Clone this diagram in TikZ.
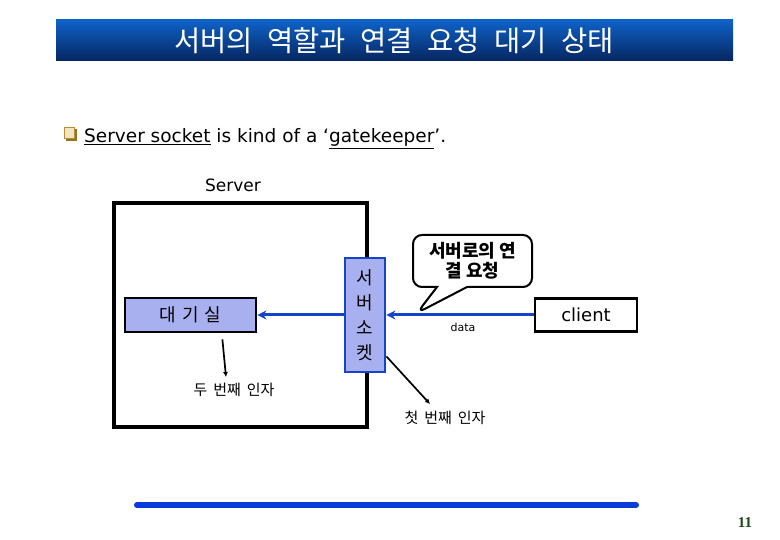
\documentclass[tikz,border=0pt]{standalone}
\usepackage{fontspec}
\setmainfont{DejaVu Sans}
\newfontfamily\kr{Noto Sans CJK KR}
\newfontfamily\pgnum{Liberation Serif}
\usetikzlibrary{shapes.callouts,arrows.meta}
\definecolor{lav}{HTML}{A9B0F0}
\definecolor{lblue}{HTML}{1444C8}
\definecolor{barblue}{HTML}{0A3CDC}
\definecolor{titletop}{HTML}{0E62C8}
\definecolor{titlebot}{HTML}{062660}
\definecolor{gold}{HTML}{B88F30}
\definecolor{goldin}{HTML}{F2E4C0}
\definecolor{pgreen}{HTML}{1A4A1A}
\newcommand\gap[1]{\hspace{#1}}
\tikzset{
  blackbox/.style={draw=black,line width=2.8pt,fill=lav,inner sep=0pt},
  sockbox/.style={draw=lblue,line width=2.8pt,fill=lav,inner sep=0pt},
  bluearrow/.style={draw=lblue,line width=3pt,-{Stealth[length=9pt,width=9pt]}},
  ptr/.style={draw=black,line width=1.7pt,-{Latex[length=5pt,width=5pt]}},
  lbl/.style={inner sep=0pt,font=\kr\fontsize{15}{17}\selectfont}
}
\begin{document}
\begin{tikzpicture}[x=1pt,y=-1pt]
\useasboundingbox (0,0) rectangle (780,540);
% title bar
\shade[top color=titletop,bottom color=titlebot] (56,20) rectangle (733,61);
\node[text=white,font=\kr\fontsize{28.5}{30}\selectfont,inner sep=0pt] (title) at (394,41)
  {서버의\gap{14.5pt}역할과\gap{14.5pt}연결\gap{14.5pt}요청\gap{14.5pt}대기\gap{14.5pt}상태};
% bullet
\fill[gold!80!black] (65.5,129.5) rectangle (77,141);
\filldraw[fill=goldin,draw=gold,line width=1pt] (64,128) rectangle (74.5,138.5);
\node[anchor=base west,inner sep=0pt,font=\fontsize{18.5}{21}\selectfont] (bullettext) at (84,143)
  {\underline{Server socket} is kind of a ‘\underline{gatekeeper}’.};
% server label and box
\node[font=\fontsize{17}{20}\selectfont,inner sep=0pt] (serverlbl) at (233,185) {Server};
\draw[line width=3.2pt] (114,203) rectangle (367,427);
% waiting room
\node[blackbox,minimum width=131pt,minimum height=34pt,font=\kr\fontsize{18}{20}\selectfont] (wait) at (190.5,315) {대\gap{6pt}기\gap{6pt}실};
% server socket
\node[sockbox,minimum width=40pt,minimum height=114pt,align=center,font=\kr\fontsize{18}{25}\selectfont] (sock) at (365,315) {서\\버\\소\\켓};
% client
\node[draw=black,line width=2.8pt,fill=white,minimum width=102pt,minimum height=33pt,inner sep=0pt,font=\fontsize{18}{20}\selectfont] (client) at (586,315) {client};
% arrows
\draw[bluearrow] (client.west) -- (sock.east);
\draw[bluearrow] (sock.west) -- (wait.east);
% data label
\node[font=\fontsize{11}{13}\selectfont,inner sep=0pt] (data) at (463,327) {data};
% callout
\node[rectangle callout,draw=black,line width=2pt,fill=white,rounded corners=9pt,
  minimum width=119pt,minimum height=52pt,align=center,inner sep=0pt,
  callout absolute pointer={(417,313)},callout pointer width=30pt,
  font=\kr\bfseries\fontsize{18}{20}\selectfont] (callout) at (472.5,261) {서버로의\gap{4pt}연\\결\gap{4pt}요청};
% argument labels
\node[lbl] (arg2) at (234,390) {두\gap{6pt}번째\gap{6pt}인자};
\node[lbl] (arg1) at (445,418) {첫\gap{6pt}번째\gap{6pt}인자};
\coordinate (arg2tip) at (226,377);
\coordinate (arg1tip) at (430,404);
\draw[ptr] ([xshift=-35pt,yshift=-6pt]wait.south east) -- (arg2tip);
\draw[ptr] ([yshift=17pt]sock.south east) -- (arg1tip);
% bottom bar
\coordinate (barL) at (137,505);
\coordinate (barR) at (636,505);
\draw[barblue,line width=6pt,line cap=round] (barL) -- (barR);
% page number
\node[text=pgreen,font=\pgnum\bfseries\fontsize{15}{17}\selectfont,inner sep=0pt] (pg) at (745,523) {11};
\end{tikzpicture}
\end{document}
